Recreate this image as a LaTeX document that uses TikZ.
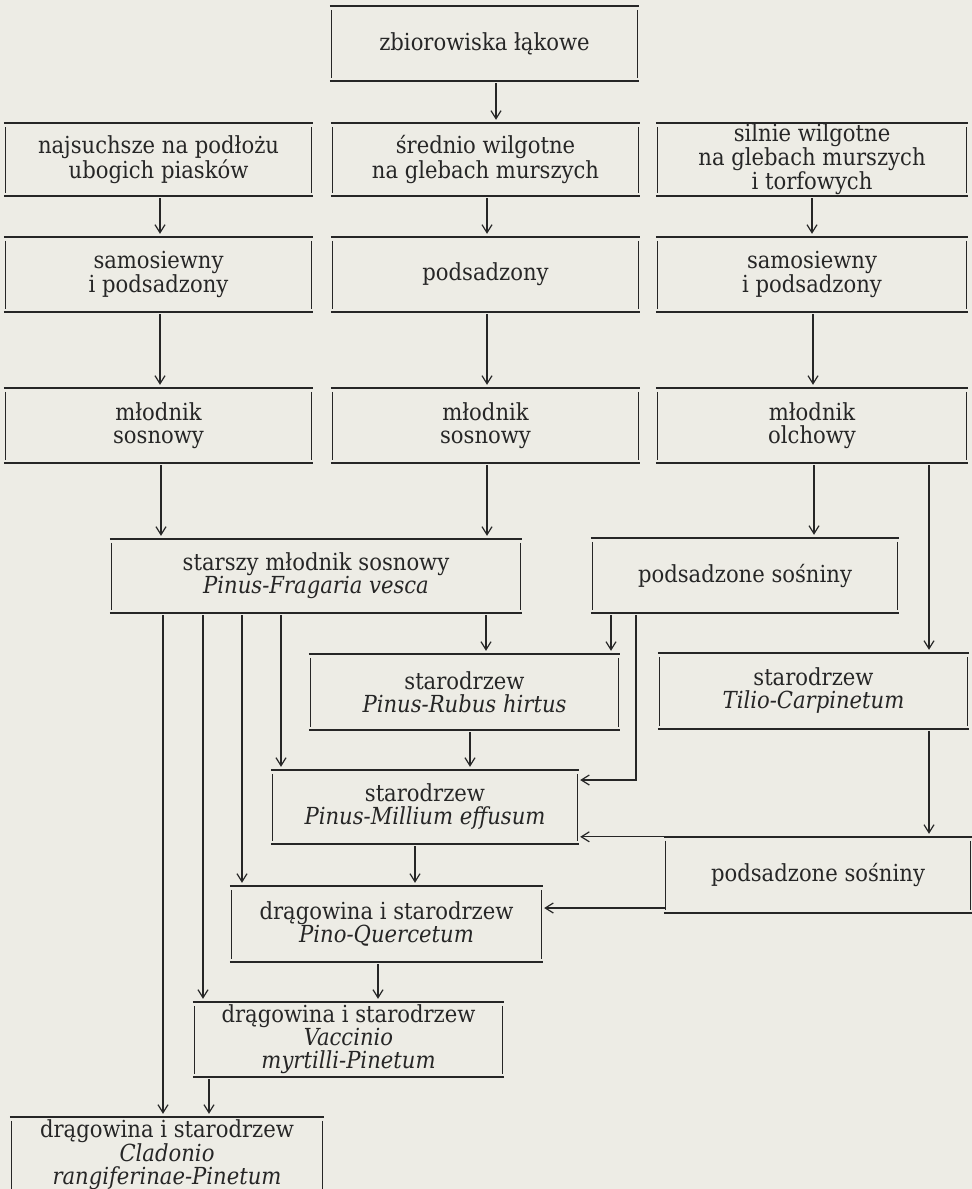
\documentclass[tikz,border=0pt]{standalone}
\usepackage{fontspec}
\setmainfont{DejaVu Serif Condensed}
\usetikzlibrary{arrows.meta}
\definecolor{paper}{HTML}{EDECE5}
\definecolor{ink}{HTML}{262626}
\newcommand\vconn[3]{\draw[arr] ([xshift=#3]#1.south) -- ([xshift=#3]#1.south |- #2.north);}
\begin{document}
\begin{tikzpicture}[x=1pt,y=-1pt,
  bx/.style 2 args={minimum width=#1pt, minimum height=#2pt, inner sep=0pt, align=center,
    font=\fontsize{23.5}{23}\selectfont, text=ink},
  rule/.style={draw=ink, line width=1.8pt},
  side/.style={draw=ink, line width=1.2pt},
  arr/.style={draw=ink, line width=1.2pt, -{Straight Barb[length=8pt,width=10pt]}, shorten >=3pt, shorten <=2pt}]
\path[use as bounding box, fill=paper] (0,0) rectangle (972,1189);
\clip (0,0) rectangle (972,1189);

\node[bx={305}{75}] (zb) at (484.5,43.5) {zbiorowiska łąkowe};

\node[bx={305}{73}] (r2a) at (158.5,159.5) {najsuchsze na podłożu\\ubogich piasków};
\node[bx={305}{73}] (r2b) at (485.5,159.5) {średnio wilgotne\\na glebach murszych};
\node[bx={308}{73}] (r2c) at (812,159.5) {silnie wilgotne\\na glebach murszych\\i torfowych};

\node[bx={305}{75}] (r3a) at (158.5,274.5) {samosiewny\\i podsadzony};
\node[bx={305}{75}] (r3b) at (485.5,274.5) {podsadzony};
\node[bx={308}{75}] (r3c) at (812,274.5) {samosiewny\\i podsadzony};

\node[bx={305}{75}] (r4a) at (158.5,425.5) {młodnik\\sosnowy};
\node[bx={305}{75}] (r4b) at (485.5,425.5) {młodnik\\sosnowy};
\node[bx={308}{75}] (r4c) at (812,425.5) {młodnik\\olchowy};

\node[bx={408}{74}] (st) at (316,576) {starszy młodnik sosnowy\\\textit{Pinus-Fragaria vesca}};
\node[bx={304}{75}] (ps1) at (745,575.5) {podsadzone sośniny};

\node[bx={307}{76}] (pr) at (464.5,692) {starodrzew\\\textit{Pinus-Rubus hirtus}};
\node[bx={307}{76}] (tc) at (813.5,691) {starodrzew\\\textit{Tilio-Carpinetum}};

\node[bx={304}{74}] (pm) at (425,807) {starodrzew\\\textit{Pinus-Millium effusum}};
\node[bx={304}{76}] (ps2) at (818,875) {podsadzone sośniny};

\node[bx={309}{76}] (pq) at (386.5,924) {drągowina i starodrzew\\\textit{Pino-Quercetum}};
\node[bx={307}{75}] (vm) at (348.5,1039.5) {drągowina i starodrzew\\\textit{Vaccinio}\\\textit{myrtilli-Pinetum}};
\node[bx={310}{76}] (cl) at (167,1155) {drągowina i starodrzew\\\textit{Cladonio}\\\textit{rangiferinae-Pinetum}};

\foreach \n in {zb,r2a,r2b,r2c,r3a,r3b,r3c,r4a,r4b,r4c,st,ps1,pr,tc,pm,ps2,pq,vm,cl}{
  \draw[rule] ([xshift=-2pt]\n.north west) -- ([xshift=2pt]\n.north east);
  \draw[rule] ([xshift=-2pt]\n.south west) -- ([xshift=2pt]\n.south east);
  \draw[side] ([yshift=-4pt]\n.north west) -- ([yshift=3pt]\n.south west);
  \draw[side] ([yshift=-4pt]\n.north east) -- ([yshift=3pt]\n.south east);
}

\vconn{zb}{r2b}{11.5pt}
\vconn{r2a}{r3a}{1.5pt}
\vconn{r2b}{r3b}{1.5pt}
\vconn{r2c}{r3c}{0pt}
\vconn{r3a}{r4a}{1.5pt}
\vconn{r3b}{r4b}{1.5pt}
\vconn{r3c}{r4c}{1pt}
\vconn{r4a}{st}{2.5pt}
\vconn{r4b}{st}{1.5pt}
\vconn{r4c}{ps1}{2pt}
\vconn{r4c}{tc}{117pt}
\vconn{st}{pr}{170pt}
\vconn{ps1}{pr}{-134pt}
\vconn{st}{pm}{-35pt}
\vconn{st}{pq}{-74pt}
\vconn{st}{vm}{-113pt}
\vconn{st}{cl}{-153pt}
\vconn{pr}{pm}{5.5pt}
\vconn{tc}{ps2}{115.5pt}
\vconn{pm}{pq}{-10pt}
\vconn{pq}{vm}{-8.5pt}
\vconn{vm}{cl}{-139.5pt}

\draw[arr] ([xshift=-109pt]ps1.south) |- ([yshift=27pt]pm.east);
\draw[arr, shorten <=0pt] (ps2.north west) -- (ps2.north west -| pm.east);
\draw[arr, shorten <=0pt] ([yshift=-33pt]ps2.west) -- ([yshift=-33pt]ps2.west -| pq.east);
\end{tikzpicture}
\end{document}
